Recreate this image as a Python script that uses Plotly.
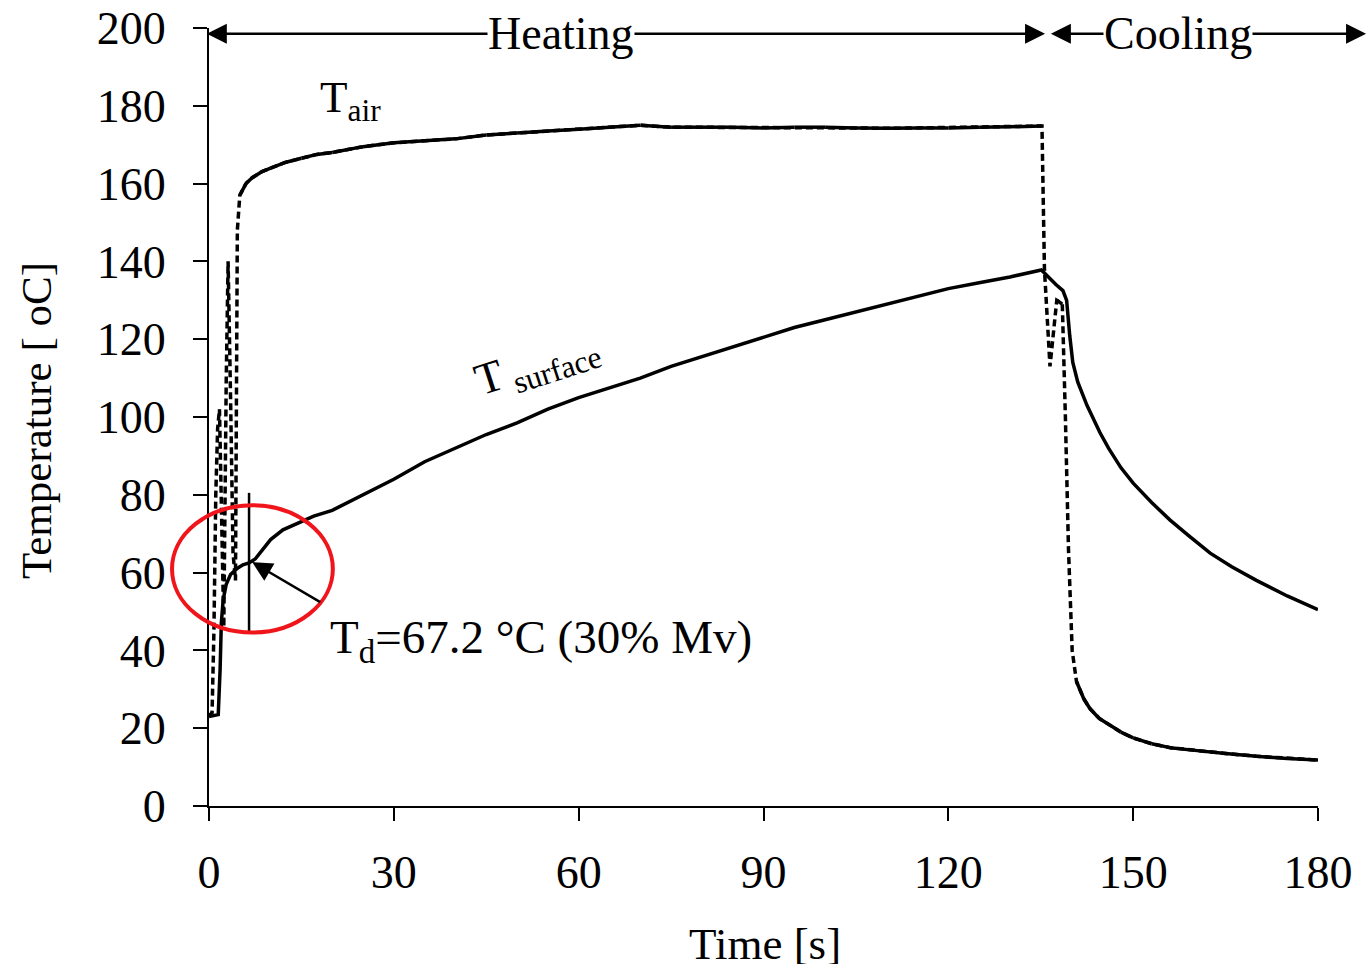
import plotly.graph_objects as go

# ---------------- data ----------------
t_surface = [0, 1.5, 1.8, 2.0, 2.3, 2.8, 3.5, 4.5, 5.5, 6.5, 7.5, 8.5, 10, 12, 14, 17, 20,
             25, 30, 35, 40, 45, 50, 55, 60, 65, 70, 75, 80, 85, 90, 95, 100, 105, 110,
             115, 120, 125, 130, 135.1, 136.5, 137.5, 138.6, 139.2, 139.7, 140.2, 141,
             142.5, 144.6, 146, 148, 150, 153, 156, 159, 162.5, 166, 170, 175, 180]
T_surface = [23, 23.5, 35, 47, 53, 57, 59.5, 61, 62, 62.5, 63.5, 65.5, 68.5, 71, 72.5, 74.5, 76,
             80, 84, 88.5, 92, 95.5, 98.5, 102, 105, 107.5, 110, 113, 115.5, 118, 120.5,
             123, 125, 127, 129, 131, 133, 134.5, 136, 137.8, 135.5, 134, 132.5, 130, 121,
             114, 109, 103, 96, 92, 87, 83, 78, 73.5, 69.5, 65, 61.5, 58, 54, 50.5]

t_air = [0, 0.5, 0.8, 1.1, 1.4, 1.7, 2.1, 2.4, 2.8, 3.1, 3.5, 3.9, 4.3, 4.6, 5.0, 6, 7,
         8.5, 10, 12.5, 15, 17.5, 20, 25, 30, 35, 40, 45, 50, 55, 60, 65, 70, 75, 80, 85,
         90, 95, 100, 105, 110, 115, 120, 125, 130, 135.2, 135.6, 136.5, 137.6, 138.5,
         139.0, 139.5, 140.1, 140.8, 142, 143, 144.5, 146, 148, 150, 153, 156, 160, 165,
         170, 175, 180]
T_air = [23, 24, 45, 80, 97, 102, 70, 46, 110, 140, 105, 65, 58, 148, 157, 160, 161.5,
         163, 164, 165.5, 166.5, 167.5, 168, 169.5, 170.5, 171, 171.5, 172.5, 173, 173.5,
         174, 174.5, 175, 174.5, 174.5, 174.5, 174.3, 174.5, 174.5, 174.3, 174.2, 174.3,
         174.3, 174.5, 174.6, 174.8, 138, 113, 130, 129, 100, 66, 40, 32, 27.5, 25, 22.5,
         21, 19, 17.5, 16, 15, 14.3, 13.5, 12.8, 12.2, 11.8]

x_ticks = [0, 30, 60, 90, 120, 150, 180]
y_ticks = [0, 20, 40, 60, 80, 100, 120, 140, 160, 180, 200]

FONT = "Liberation Serif"
X_RANGE = [0, 180]
Y_RANGE = [0, 200]


def px(t):
    return (t - X_RANGE[0]) / (X_RANGE[1] - X_RANGE[0])


def py(v):
    return (v - Y_RANGE[0]) / (Y_RANGE[1] - Y_RANGE[0])


# solid copy of the air curve only where it is not steep (Excel-like dash look)
air_solid_x, air_solid_y = [], []
for i in range(len(t_air) - 1):
    slope = abs((T_air[i + 1] - T_air[i]) / (t_air[i + 1] - t_air[i]))
    if slope < 10:
        air_solid_x += [t_air[i], t_air[i + 1], None]
        air_solid_y += [T_air[i], T_air[i + 1], None]

fig = go.Figure()
fig.add_trace(go.Scatter(x=t_air, y=T_air, mode="lines",
                         line=dict(color="black", width=3.5, dash="7px,4px"),
                         name="T_air", showlegend=False))
fig.add_trace(go.Scatter(x=air_solid_x, y=air_solid_y, mode="lines",
                         line=dict(color="black", width=3.5),
                         name="T_air", showlegend=False, connectgaps=False))
fig.add_trace(go.Scatter(x=t_surface, y=T_surface, mode="lines",
                         line=dict(color="black", width=3.5),
                         name="T_surface", showlegend=False))

annotations = []
# Heating / Cooling double arrows
annotations.append(dict(x=135.7, y=198.5, ax=-0.6, ay=198.5, xref="x", yref="y",
                        axref="x", ayref="y", text="", showarrow=True,
                        arrowside="end+start", arrowhead=2, arrowsize=1.6,
                        arrowwidth=2.5, arrowcolor="black"))
annotations.append(dict(x=187.8, y=198.5, ax=136.4, ay=198.5, xref="x", yref="y",
                        axref="x", ayref="y", text="", showarrow=True,
                        arrowside="end+start", arrowhead=2, arrowsize=1.6,
                        arrowwidth=2.5, arrowcolor="black"))
annotations.append(dict(x=57.1, y=198.5, xref="x", yref="y", text="Heating",
                        showarrow=False, bgcolor="white", borderpad=0,
                        font=dict(family=FONT, size=46, color="black")))
annotations.append(dict(x=157.2, y=198.5, xref="x", yref="y", text="Cooling",
                        showarrow=False, bgcolor="white", borderpad=0,
                        font=dict(family=FONT, size=46, color="black")))
# curve labels
annotations.append(dict(x=22.9, y=181.5, xref="x", yref="y", text="T<sub>air</sub>",
                        showarrow=False, font=dict(family=FONT, size=45, color="black")))
annotations.append(dict(x=53.2, y=113.4, xref="x", yref="y", text="T<sub> surface</sub>",
                        showarrow=False, textangle=-18,
                        font=dict(family=FONT, size=45, color="black")))
# Td arrow and text
annotations.append(dict(x=7.0, y=62.7, ax=18.3, ay=52.2, xref="x", yref="y",
                        axref="x", ayref="y", text="", showarrow=True,
                        arrowhead=2, arrowsize=1.6, arrowwidth=2.5, arrowcolor="black"))
annotations.append(dict(x=19.3, y=42.6, xref="x", yref="y", xanchor="left",
                        text="T<sub>d</sub>=67.2 °C (30% Mv)", showarrow=False,
                        font=dict(family=FONT, size=47, color="black")))
# axis titles
annotations.append(dict(x=-0.155, y=0.495, xref="paper", yref="paper",
                        xanchor="center", yanchor="middle",
                        text="Temperature [ oC]", textangle=-90, showarrow=False,
                        font=dict(family=FONT, size=43, color="black")))
annotations.append(dict(x=0.501, y=-0.178, xref="paper", yref="paper",
                        xanchor="center", yanchor="middle",
                        text="Time [s]", showarrow=False,
                        font=dict(family=FONT, size=45, color="black")))

shapes = [
    dict(type="line", xref="x", yref="y", x0=6.5, x1=6.5, y0=44.3, y1=80.5,
         line=dict(color="black", width=2.5)),
    dict(type="circle", xref="paper", yref="paper",
         x0=px(-6.0), x1=px(20.1), y0=py(44.6), y1=py(77.3),
         line=dict(color="#f0141b", width=4)),
]

fig.update_layout(
    width=1370, height=964,
    margin=dict(l=209, r=52, t=28, b=158, autoexpand=False),
    paper_bgcolor="white", plot_bgcolor="white",
    showlegend=False,
    annotations=annotations,
    shapes=shapes,
    font=dict(family=FONT, color="black"),
)
fig.update_xaxes(range=X_RANGE, tickvals=x_ticks, ticktext=[str(v) for v in x_ticks],
                 showgrid=False, zeroline=False, showline=True, linecolor="black",
                 linewidth=2, ticks="outside", ticklen=13, tickwidth=2, tickcolor="black",
                 tickfont=dict(family=FONT, size=46, color="black"),
                 ticklabelstandoff=12, automargin=False)
fig.update_yaxes(range=Y_RANGE, tickvals=y_ticks, ticktext=[str(v) for v in y_ticks],
                 showgrid=False, zeroline=False, showline=True, linecolor="black",
                 linewidth=2, ticks="outside", ticklen=14, tickwidth=2, tickcolor="black",
                 tickfont=dict(family=FONT, size=46, color="black"),
                 ticklabelstandoff=18, automargin=False)

fig.write_html("out.html")
